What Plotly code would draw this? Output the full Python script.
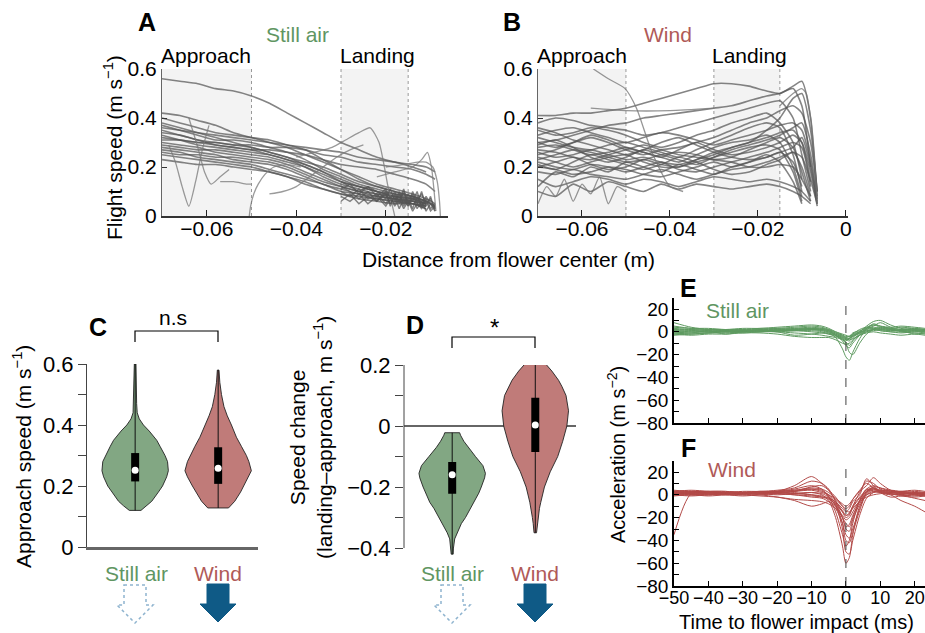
import plotly.graph_objects as go

# ---------------- data ----------------
# Panel A (still air): flight speed vs distance from flower center
A_DIST = [-0.07, -0.066, -0.062, -0.058, -0.054, -0.05, -0.046, -0.042, -0.038,
          -0.034, -0.03, -0.026, -0.022, -0.018, -0.014, -0.011, -0.009]
A_SPEED = [
    [0.56, 0.55, 0.54, 0.52, 0.51, 0.49, 0.46, 0.42, 0.38, 0.34, 0.30, 0.27, 0.24, 0.22, 0.20, 0.18, None],
    [0.42, 0.41, 0.39, 0.37, 0.34, 0.32, 0.30, 0.28, 0.25, 0.22, 0.19, 0.16, 0.13, 0.11, 0.09, 0.07, 0.05],
    [0.40, 0.38, 0.36, 0.34, 0.33, 0.32, 0.31, 0.29, 0.27, 0.23, 0.19, 0.15, 0.12, 0.10, 0.08, 0.06, 0.04],
    [0.37, 0.35, 0.33, 0.31, 0.31, 0.30, 0.28, 0.26, 0.23, 0.19, 0.16, 0.13, 0.11, 0.09, 0.07, 0.05, None],
    [0.34, 0.33, 0.31, 0.30, 0.29, 0.28, 0.26, 0.24, 0.21, 0.18, 0.14, 0.12, 0.10, 0.08, 0.07, 0.05, None],
    [0.33, 0.31, 0.29, 0.28, 0.27, 0.26, 0.25, 0.23, 0.20, 0.16, 0.13, 0.11, 0.09, 0.08, 0.06, 0.05, None],
    [0.30, 0.29, 0.28, 0.26, 0.25, 0.24, 0.23, 0.21, 0.18, 0.15, 0.12, 0.10, 0.09, 0.07, 0.06, 0.04, None],
    [0.28, 0.27, 0.26, 0.25, 0.23, 0.22, 0.21, 0.19, 0.16, 0.13, 0.11, 0.09, 0.08, 0.07, 0.05, 0.04, None],
    [0.27, 0.26, 0.24, 0.23, 0.22, 0.21, 0.19, 0.17, 0.15, 0.13, 0.10, 0.09, 0.07, 0.06, 0.05, 0.04, None],
    [0.25, 0.24, 0.23, 0.22, 0.21, 0.20, 0.18, 0.16, 0.14, 0.11, 0.09, 0.08, 0.07, 0.06, 0.05, 0.03, None],
    [0.23, 0.22, 0.21, 0.21, 0.20, 0.19, 0.18, 0.16, 0.13, 0.11, 0.09, 0.07, 0.06, 0.05, 0.05, 0.03, None],
    [0.35, 0.33, 0.31, 0.29, 0.28, 0.27, 0.27, 0.26, 0.25, 0.23, 0.21, 0.20, 0.19, 0.17, 0.15, 0.13, 0.10],
    [0.31, 0.31, 0.30, 0.30, 0.29, 0.29, 0.28, 0.28, 0.27, 0.25, 0.24, 0.22, 0.21, 0.20, 0.19, 0.17, 0.15],
    [0.36, 0.35, 0.34, 0.33, 0.32, 0.31, 0.30, 0.29, 0.28, 0.27, 0.26, 0.24, 0.23, 0.22, 0.21, 0.20, 0.18],
    [0.29, 0.28, 0.27, 0.27, 0.26, 0.25, 0.24, 0.22, 0.20, 0.17, 0.14, 0.12, 0.10, 0.09, 0.08, 0.06, 0.04],
    [0.32, 0.31, 0.30, 0.29, 0.28, 0.27, 0.25, 0.23, 0.21, 0.18, 0.15, 0.12, 0.10, 0.08, 0.07, 0.06, None],
    [0.26, 0.25, 0.25, 0.24, 0.24, 0.23, 0.22, 0.20, 0.17, 0.14, 0.12, 0.10, 0.08, 0.07, 0.06, 0.05, None],
    [0.38, 0.36, 0.34, 0.32, 0.30, 0.28, 0.26, 0.24, 0.22, 0.20, 0.17, 0.14, 0.12, 0.10, 0.08, 0.06, None],
]
A_EXTRA_X = [
    [-0.0685, -0.067, -0.0655, -0.064, -0.0625, -0.061, -0.0595],
    [-0.064, -0.062, -0.0605, -0.059, -0.057, -0.055],
    [-0.0505, -0.0502, -0.0495, -0.0485, -0.047, -0.045, -0.042, -0.039],
    [-0.04, -0.036, -0.032, -0.029, -0.026, -0.0235, -0.0215, -0.0195, -0.018],
    [-0.022, -0.018, -0.014, -0.012, -0.0107, -0.0098, -0.0092, -0.0088],
    [-0.02, -0.016, -0.013, -0.011, -0.0095, -0.0085, -0.008, -0.0078],
    [-0.046, -0.043, -0.04, -0.037, -0.034, -0.031, -0.028, -0.025],
    [-0.057, -0.054, -0.051, -0.05],
]
A_EXTRA_Y = [
    [0.29, 0.22, 0.12, 0.04, 0.14, 0.27, 0.37],
    [0.40, 0.28, 0.18, 0.13, 0.16, 0.19],
    [0.0, 0.04, 0.09, 0.13, 0.17, 0.20, 0.21, 0.20],
    [0.24, 0.26, 0.28, 0.31, 0.34, 0.36, 0.30, 0.12, 0.0],
    [0.16, 0.18, 0.20, 0.23, 0.26, 0.20, 0.10, 0.02],
    [0.20, 0.21, 0.22, 0.22, 0.20, 0.14, 0.06, 0.0],
    [0.09, 0.10, 0.12, 0.16, 0.20, 0.24, 0.27, 0.29],
    [0.14, 0.14, 0.13, 0.13],
]
A_TAIL_X = [-0.03, -0.028, -0.026, -0.024, -0.022, -0.02, -0.019, -0.018, -0.017,
            -0.016, -0.015, -0.014, -0.013, -0.012, -0.011, -0.01, -0.009]
A_TAIL_Y = [
    [0.10, 0.08, 0.11, 0.07, 0.09, 0.05, 0.08, 0.04, 0.07, 0.03, 0.06, 0.02, 0.05, 0.03, 0.06, 0.02, 0.04],
    [0.12, 0.10, 0.07, 0.10, 0.06, 0.09, 0.05, 0.08, 0.03, 0.07, 0.04, 0.08, 0.03, 0.06, 0.02, 0.05, 0.03],
    [0.08, 0.06, 0.09, 0.05, 0.08, 0.04, 0.07, 0.05, 0.09, 0.04, 0.07, 0.03, 0.08, 0.04, 0.07, 0.03, 0.05],
    [0.06, 0.09, 0.05, 0.08, 0.06, 0.10, 0.04, 0.09, 0.05, 0.10, 0.04, 0.09, 0.05, 0.10, 0.04, 0.08, 0.02],
    [0.14, 0.12, 0.10, 0.12, 0.08, 0.11, 0.07, 0.10, 0.06, 0.11, 0.05, 0.10, 0.06, 0.09, 0.05, 0.07, 0.03],
    [0.11, 0.13, 0.09, 0.12, 0.10, 0.07, 0.11, 0.06, 0.10, 0.05, 0.09, 0.06, 0.10, 0.04, 0.08, 0.05, 0.02],
]

# Panel B (wind)
B_DIST = [-0.07, -0.066, -0.062, -0.058, -0.054, -0.05, -0.046, -0.042, -0.038, -0.034,
          -0.03, -0.026, -0.022, -0.018, -0.015, -0.012, -0.01, -0.008, -0.0065]
B_SPEED = [
    [0.41, 0.41, 0.42, 0.42, 0.43, 0.44, 0.46, 0.48, 0.50, 0.52, 0.54, 0.54, 0.53, 0.51, 0.50, 0.53, 0.55, 0.40, 0.08],
    [0.30, 0.31, 0.33, 0.35, 0.37, 0.38, 0.40, 0.41, 0.42, 0.43, 0.44, 0.45, 0.47, 0.49, 0.50, 0.52, 0.45, 0.20, None],
    [0.38, 0.40, 0.39, 0.37, 0.36, 0.35, 0.33, 0.34, 0.36, 0.38, 0.40, 0.42, 0.44, 0.46, 0.47, 0.40, 0.25, 0.10, None],
    [0.35, 0.33, 0.34, 0.36, 0.35, 0.33, 0.30, 0.28, 0.30, 0.33, 0.35, 0.38, 0.40, 0.42, 0.38, 0.30, 0.15, None, None],
    [0.32, 0.30, 0.28, 0.27, 0.29, 0.30, 0.28, 0.26, 0.24, 0.27, 0.30, 0.33, 0.36, 0.38, 0.36, 0.25, 0.10, None, None],
    [0.28, 0.29, 0.27, 0.25, 0.26, 0.28, 0.26, 0.24, 0.22, 0.25, 0.28, 0.30, 0.31, 0.33, 0.30, 0.20, 0.08, None, None],
    [0.26, 0.24, 0.25, 0.27, 0.25, 0.23, 0.24, 0.22, 0.21, 0.23, 0.25, 0.28, 0.30, 0.32, 0.34, 0.35, 0.30, 0.15, 0.05],
    [0.24, 0.22, 0.20, 0.22, 0.24, 0.25, 0.22, 0.20, 0.20, 0.22, 0.24, 0.26, 0.28, 0.29, 0.27, 0.18, 0.06, None, None],
    [0.22, 0.20, 0.19, 0.21, 0.20, 0.18, 0.20, 0.22, 0.19, 0.18, 0.20, 0.22, 0.24, 0.26, 0.28, 0.30, 0.28, 0.12, None],
    [0.20, 0.19, 0.17, 0.18, 0.20, 0.19, 0.17, 0.16, 0.18, 0.20, 0.22, 0.20, 0.22, 0.25, 0.22, 0.14, 0.05, None, None],
    [0.18, 0.17, 0.19, 0.17, 0.16, 0.15, 0.17, 0.19, 0.17, 0.15, 0.17, 0.19, 0.20, 0.22, 0.24, 0.26, 0.20, 0.08, None],
    [0.15, 0.12, 0.14, 0.16, 0.15, 0.13, 0.15, 0.14, 0.12, 0.14, 0.16, 0.15, 0.14, 0.15, 0.14, 0.12, 0.10, 0.06, None],
    [0.10, 0.08, 0.13, 0.10, 0.14, 0.12, 0.10, 0.13, 0.11, 0.13, 0.12, 0.11, 0.12, 0.13, 0.12, 0.10, 0.08, 0.05, None],
    [0.30, 0.28, 0.30, 0.32, 0.30, 0.27, 0.25, 0.27, 0.28, 0.30, 0.32, 0.35, 0.38, 0.40, 0.43, 0.45, 0.42, 0.30, 0.10],
    [0.27, 0.26, 0.24, 0.23, 0.25, 0.27, 0.29, 0.27, 0.25, 0.24, 0.23, 0.24, 0.27, 0.30, 0.32, 0.28, 0.18, 0.06, None],
    [0.23, 0.25, 0.27, 0.26, 0.24, 0.22, 0.23, 0.25, 0.26, 0.25, 0.23, 0.22, 0.20, 0.20, 0.21, 0.20, 0.15, 0.08, None],
    [0.12, 0.18, 0.16, 0.20, 0.18, 0.22, 0.20, 0.18, 0.21, 0.19, 0.17, 0.20, 0.22, 0.24, 0.26, 0.28, 0.32, 0.20, 0.05],
    [0.20, 0.22, 0.24, 0.21, 0.19, 0.20, 0.23, 0.21, 0.20, 0.23, 0.26, 0.28, 0.30, 0.35, 0.40, 0.48, 0.50, 0.35, 0.10],
    [0.33, 0.35, 0.36, 0.34, 0.32, 0.30, 0.32, 0.34, 0.33, 0.31, 0.29, 0.31, 0.33, 0.35, 0.37, 0.38, 0.35, 0.22, 0.06],
    [0.25, 0.27, 0.30, 0.33, 0.31, 0.28, 0.26, 0.24, 0.27, 0.30, 0.27, 0.25, 0.26, 0.28, 0.30, 0.33, 0.30, 0.18, 0.04],
    [0.36, 0.34, 0.31, 0.29, 0.27, 0.25, 0.27, 0.30, 0.32, 0.29, 0.26, 0.24, 0.23, 0.24, 0.26, 0.22, 0.12, None, None],
    [0.29, 0.31, 0.28, 0.24, 0.22, 0.24, 0.27, 0.25, 0.23, 0.21, 0.24, 0.27, 0.29, 0.31, 0.33, 0.36, 0.38, 0.25, 0.07],
    [0.21, 0.19, 0.22, 0.25, 0.23, 0.21, 0.19, 0.21, 0.24, 0.22, 0.19, 0.17, 0.18, 0.21, 0.23, 0.26, 0.24, 0.14, None],
]
B_EXTRA_X = [
    [-0.0574, -0.054, -0.0502, -0.0476, -0.0445, -0.042, -0.04, -0.037],
    [-0.07, -0.068, -0.066, -0.064, -0.062, -0.06, -0.058, -0.056, -0.054, -0.052, -0.05],
    [-0.058, -0.05, -0.04, -0.03],
    [-0.015, -0.012, -0.01, -0.009, -0.008, -0.007, -0.0065],
]
B_EXTRA_Y = [
    [0.60, 0.56, 0.52, 0.44, 0.28, 0.18, 0.12, 0.10],
    [0.05, 0.12, 0.08, 0.15, 0.06, 0.13, 0.09, 0.16, 0.05, 0.12, 0.10],
    [0.44, 0.43, 0.43, 0.44],
    [0.45, 0.50, 0.52, 0.50, 0.40, 0.20, 0.05],
]

# Panels C and D: violin outlines (value level, half width in category units) and box stats
CATS = ["Still air", "Wind"]
C_STILL_Y = [0.12, 0.135, 0.15, 0.18, 0.2, 0.23, 0.25, 0.28, 0.3, 0.33, 0.35, 0.38, 0.4, 0.42, 0.44, 0.47, 0.52, 0.6]
C_STILL_W = [0.07, 0.14, 0.20, 0.28, 0.33, 0.38, 0.40, 0.39, 0.36, 0.30, 0.26, 0.17, 0.10, 0.05, 0.025, 0.018, 0.015, 0.01]
C_WIND_Y = [0.128, 0.15, 0.18, 0.2, 0.23, 0.25, 0.28, 0.3, 0.33, 0.36, 0.4, 0.43, 0.46, 0.5, 0.54, 0.58]
C_WIND_W = [0.125, 0.2, 0.27, 0.31, 0.37, 0.40, 0.37, 0.34, 0.28, 0.22, 0.16, 0.11, 0.07, 0.04, 0.02, 0.01]
C_STATS = {"Still air": [0.12, 0.215, 0.252, 0.308, 0.60], "Wind": [0.128, 0.207, 0.258, 0.327, 0.58]}

D_STILL_Y = [-0.42, -0.4, -0.37, -0.35, -0.32, -0.3, -0.27, -0.25, -0.22, -0.2, -0.17, -0.155, -0.13, -0.1, -0.07, -0.05, -0.03, -0.022]
D_STILL_W = [0.012, 0.015, 0.03, 0.06, 0.11, 0.16, 0.22, 0.27, 0.32, 0.35, 0.39, 0.40, 0.37, 0.28, 0.19, 0.14, 0.10, 0.09]
D_WIND_Y = [-0.35, -0.32, -0.3, -0.27, -0.25, -0.2, -0.15, -0.1, -0.05, 0.0, 0.05, 0.1, 0.13, 0.15, 0.18, 0.205]
D_WIND_W = [0.015, 0.025, 0.035, 0.05, 0.066, 0.11, 0.18, 0.27, 0.33, 0.38, 0.40, 0.37, 0.32, 0.28, 0.20, 0.12]
D_STATS = {"Still air": [-0.42, -0.222, -0.16, -0.118, -0.022], "Wind": [-0.35, -0.085, 0.003, 0.093, 0.205]}

# Panels E and F: acceleration vs time to flower impact
TIME = [-50, -45, -40, -35, -30, -25, -20, -15, -10, -7, -5, -3, -1, 0, 1, 2, 4, 6, 8, 10, 13, 16, 20, 23]
E_ACC = [
    [3, 2, 1, 1, 1, 2, 2, 3, 4, 3, 1, -3, -7, -8, -5, -2, 2, 4, 3, 2, 1, 1, 2, 1],
    [-1, 0, 0, 1, 0, 1, 1, 2, 2, 1, -1, -5, -15, -22, -25, -18, -6, 2, 4, 3, 2, 1, 1, 2],
    [0, -1, 1, 0, 1, 1, 2, 2, 3, 2, 0, -3, -8, -12, -14, -10, -3, 3, 6, 4, 2, 1, 0, 1],
    [8, 4, 2, 1, 0, 0, 1, 1, 1, 0, -2, -4, -6, -7, -6, -3, 0, 5, 9, 10, 6, 3, 2, 1],
    [2, 2, 1, -2, 0, 1, 1, 1, 2, 1, 0, -2, -4, -5, -4, -1, 1, 3, 5, 8, 4, 2, 1, 0],
    [-3, -2, -1, 0, 0, 1, 0, -3, -2, -1, -1, -3, -6, -9, -12, -8, -2, 0, 2, 1, 0, -1, 0, -1],
    [1, 1, 2, 2, 2, 3, 3, 4, 5, 4, 2, -1, -4, -6, -6, -4, -1, 2, 3, 2, 1, 2, 3, 2],
    [0, 1, 0, 1, 1, 1, 0, 1, 2, 2, 1, -1, -3, -4, -4, -2, 0, 1, 2, 1, 0, 0, 1, 0],
    [-2, -1, -1, 0, -1, 0, 0, -1, -2, -3, -4, -5, -7, -10, -18, -20, -10, -2, 2, 4, 3, 0, -1, -2],
    [4, 3, 3, 2, 2, 2, 3, 3, 3, 2, 1, -2, -5, -7, -8, -5, -1, 3, 7, 5, 3, 4, 3, 2],
    [-1, -2, -1, -1, 0, 0, 1, 1, 0, -1, -2, -3, -5, -6, -7, -6, -3, 0, 1, 2, 2, 1, -2, -1],
    [1, 0, 0, 0, 1, 1, 1, 2, 3, 3, 2, 0, -2, -3, -4, -3, -1, 1, 2, 3, 3, 2, 2, 1],
    [5, 3, 2, 2, 3, 3, 4, 5, 6, 5, 3, 0, -3, -5, -6, -4, 0, 4, 6, 5, 4, 5, 4, 3],
    [-2, -3, -2, -2, -1, -1, -2, -4, -5, -5, -5, -7, -10, -11, -10, -7, -3, -1, 0, -1, -2, -3, -2, -3],
]
F_ACC = [
    [2, 3, 2, 1, 1, 2, 2, 3, 5, 4, -2, -15, -35, -45, -40, -25, -5, 5, 3, 2, 1, 0, 2, 1],
    [3, 2, 2, 2, 1, 1, 2, 1, 2, 0, -5, -20, -45, -60, -55, -35, -10, 0, 3, 2, 1, 0, -1, 0],
    [-35, 1, 2, 2, 2, 2, 3, 5, 8, 5, -1, -10, -20, -25, -28, -20, -5, 5, 8, 6, 3, 2, 1, 2],
    [1, 1, 0, 1, 2, 2, 1, 0, -2, -3, -6, -12, -25, -35, -38, -30, -12, 2, 6, 4, 1, -1, -2, -1],
    [4, 3, 3, 2, 3, 3, 4, 6, 12, 10, 5, -5, -15, -20, -18, -10, 2, 12, 10, 5, 2, 1, 0, -1],
    [0, 0, 1, 1, 0, -1, -2, -4, -5, -6, -8, -12, -18, -22, -20, -15, -5, 0, 2, 3, 4, 3, 2, 1],
    [2, 1, 1, 0, 0, 1, 2, 3, 4, 2, 0, -4, -10, -14, -15, -12, -6, -2, 0, 1, 2, 3, 2, 1],
    [1, 2, 3, 3, 2, 2, 3, 4, 6, 5, 2, -3, -8, -10, -8, -4, 3, 8, 15, 10, 4, 2, 1, 0],
    [-1, 0, -1, 0, 1, 0, -2, -5, -10, -8, -6, -10, -30, -50, -52, -40, -18, -3, 2, 4, 3, 0, -3, -5],
    [3, 3, 2, 1, 1, 2, 3, 2, 0, -2, -4, -8, -15, -18, -16, -10, -2, 4, 6, 3, 0, -5, -10, -15],
    [2, 2, 1, 1, 2, 3, 3, 8, 16, 10, 4, -6, -20, -30, -32, -22, -8, 2, 5, 4, 3, 2, 1, 0],
    [0, 1, 1, 2, 2, 1, 1, 0, -1, -2, -3, -6, -12, -15, -12, -6, 0, 14, 8, 2, 0, 1, 1, 2],
    [2, 2, 3, 3, 2, 2, 3, 4, 5, 3, 0, -8, -25, -40, -42, -33, -14, 1, 4, 3, 2, 1, 3, 2],
    [1, 0, 0, 1, 1, 1, 0, 1, 2, 1, -2, -7, -14, -18, -17, -11, -3, 3, 7, 6, 4, 2, 0, -1],
    [3, 4, 3, 2, 2, 3, 2, 1, 0, -1, -3, -9, -20, -28, -26, -18, -6, 3, 5, 3, 2, 3, 4, 3],
    [0, -1, 0, 0, -1, 0, 1, 3, 7, 8, 4, -2, -10, -12, -10, -4, 4, 10, 6, 2, -2, -1, 0, 1],
]

# ---------------- styling ----------------
W, H = 925, 633
FONT = "Liberation Sans, Arial, sans-serif"
FS = 21
GREEN_TXT = "#5f9662"
RED_TXT = "#b05a58"
GREEN_FILL = "#82a783"
RED_FILL = "#c07b79"
GREEN_LINE = "#5e9a60"
RED_LINE = "#b24a48"
GRAY_LINE = "rgba(85,85,85,0.72)"
BLUE = "#0f5a86"
LBLUE = "#8fb4cf"


def px(x):
    return x / W


def py(y):
    return 1 - y / H


fig = go.Figure()

# A and B trajectories
for row in A_SPEED:
    fig.add_trace(go.Scatter(x=A_DIST, y=row, mode="lines", xaxis="x", yaxis="y",
                             line=dict(color=GRAY_LINE, width=1.6, shape="spline", smoothing=0.6)))
for xs, ys in zip(A_EXTRA_X, A_EXTRA_Y):
    fig.add_trace(go.Scatter(x=xs, y=ys, mode="lines", xaxis="x", yaxis="y",
                             line=dict(color="rgba(120,120,120,0.75)", width=1.3, shape="spline", smoothing=0.6)))
for ys in A_TAIL_Y:
    fig.add_trace(go.Scatter(x=A_TAIL_X, y=ys, mode="lines", xaxis="x", yaxis="y",
                             line=dict(color=GRAY_LINE, width=1.4)))
for row in B_SPEED:
    fig.add_trace(go.Scatter(x=B_DIST, y=row, mode="lines", xaxis="x2", yaxis="y2",
                             line=dict(color=GRAY_LINE, width=1.6, shape="spline", smoothing=0.6)))
for xs, ys in zip(B_EXTRA_X, B_EXTRA_Y):
    fig.add_trace(go.Scatter(x=xs, y=ys, mode="lines", xaxis="x2", yaxis="y2",
                             line=dict(color="rgba(115,115,115,0.75)", width=1.3, shape="spline", smoothing=0.6)))


def add_violin(center, ys, ws, stats, fill, xa, ya):
    xs = [center + w for w in ws] + [center - w for w in reversed(ws)]
    yy = list(ys) + list(reversed(ys))
    fig.add_trace(go.Scatter(x=xs + [xs[0]], y=yy + [yy[0]], mode="lines", fill="toself",
                             fillcolor=fill, line=dict(color="#222", width=0.9),
                             xaxis=xa, yaxis=ya))
    lo, q1, med, q3, hi = stats
    fig.add_trace(go.Scatter(x=[center, center], y=[lo, hi], mode="lines",
                             line=dict(color="#111", width=1), xaxis=xa, yaxis=ya))
    fig.add_trace(go.Scatter(x=[center, center], y=[q1, q3], mode="lines",
                             line=dict(color="#000", width=8), xaxis=xa, yaxis=ya))
    fig.add_trace(go.Scatter(x=[center], y=[med], mode="markers",
                             marker=dict(color="white", size=7), xaxis=xa, yaxis=ya))


add_violin(1, C_STILL_Y, C_STILL_W, C_STATS[CATS[0]], GREEN_FILL, "x3", "y3")
add_violin(2, C_WIND_Y, C_WIND_W, C_STATS[CATS[1]], RED_FILL, "x3", "y3")
add_violin(1, D_STILL_Y, D_STILL_W, D_STATS[CATS[0]], GREEN_FILL, "x4", "y4")
add_violin(2, D_WIND_Y, D_WIND_W, D_STATS[CATS[1]], RED_FILL, "x4", "y4")

for row in E_ACC:
    fig.add_trace(go.Scatter(x=TIME, y=row, mode="lines", xaxis="x5", yaxis="y5",
                             line=dict(color=GREEN_LINE, width=1, shape="spline", smoothing=0.8)))
for row in F_ACC:
    fig.add_trace(go.Scatter(x=TIME, y=row, mode="lines", xaxis="x6", yaxis="y6",
                             line=dict(color=RED_LINE, width=1, shape="spline", smoothing=0.8)))

# ---------------- axes ----------------
tf = dict(family=FONT, size=FS, color="#000")
tf_cd = dict(family=FONT, size=22, color="#000")
tf_ef = dict(family=FONT, size=19, color="#000")
tf_fx = dict(family=FONT, size=18, color="#000")
common = dict(showgrid=False, zeroline=False, fixedrange=True, automargin=False, tickangle=0)
yA = [py(216), py(69)]
fig.update_layout(
    xaxis=dict(domain=[px(162), px(448)], range=[-0.07, -0.0061], anchor="y",
               tickvals=[-0.06, -0.04, -0.02], ticks="inside", ticklen=6, tickcolor="#222",
               showline=True, linecolor="#333", linewidth=1.5, tickfont=tf,
               ticklabelstandoff=-7, **common),
    yaxis=dict(domain=yA, range=[0, 0.6], anchor="x", tickvals=[0, 0.2, 0.4, 0.6],
               ticktext=["0", "0.2", "0.4", "0.6"], ticks="inside", ticklen=5, tickcolor="#333",
               showline=True, linecolor="#666", linewidth=1, tickfont=tf, **common),
    xaxis2=dict(domain=[px(538), px(848)], range=[-0.07, 0.0005], anchor="y2",
                tickvals=[-0.06, -0.04, -0.02, 0], ticktext=["\u22120.06", "\u22120.04", "\u22120.02", "0"],
                ticks="inside", ticklen=6, tickcolor="#222",
                showline=True, linecolor="#333", linewidth=1.5, tickfont=tf,
                ticklabelstandoff=-7, ticklabeloverflow="allow", **common),
    yaxis2=dict(domain=yA, range=[0, 0.6], anchor="x2", tickvals=[0, 0.2, 0.4, 0.6],
                ticktext=["0", "0.2", "0.4", "0.6"], ticks="inside", ticklen=5, tickcolor="#333",
                showline=True, linecolor="#666", linewidth=1, tickfont=tf, **common),
    xaxis3=dict(domain=[px(87), px(258)], range=[0.42, 2.48], anchor="y3", showticklabels=False,
                ticks="", showline=True, linecolor="#666", linewidth=2.5, **common),
    yaxis3=dict(domain=[py(547), py(364)], range=[0, 0.6], anchor="x3", tickvals=[0, 0.2, 0.4, 0.6],
                ticktext=["0", "0.2", "0.4", "0.6"], ticks="outside", ticklen=8, tickcolor="#444",
                minor=dict(dtick=0.1, ticks="outside", ticklen=8, tickcolor="#444"),
                showline=True, linecolor="#444", linewidth=1, tickfont=tf_cd, **common),
    xaxis4=dict(domain=[px(404), px(576)], range=[0.42, 2.49], anchor="y4", visible=False, **common),
    yaxis4=dict(domain=[py(557.2), py(365)], range=[-0.43, 0.2], anchor="x4",
                tickvals=[-0.4, -0.2, 0, 0.2], ticktext=["\u22120.4", "\u22120.2", "0", "0.2"],
                ticks="outside", ticklen=8, tickcolor="#444",
                minor=dict(tickvals=[-0.3, -0.1, 0.1], ticks="outside", ticklen=8, tickcolor="#444"),
                showline=False, tickfont=tf_cd, **common),
    xaxis5=dict(domain=[px(674), 1.0], range=[-50, 23], anchor="y5",
                tickvals=[-50, -40, -30, -20, -10, 0, 10, 20], showticklabels=False,
                ticks="inside", ticklen=5, tickcolor="#000",
                showline=True, linecolor="#000", linewidth=1.5, tickfont=tf_ef, **common),
    yaxis5=dict(domain=[py(423), py(297.6)], range=[-80, 30], anchor="x5",
                tickvals=[-80, -60, -40, -20, 0, 20], ticks="inside", ticklen=5, tickcolor="#000",
                minor=dict(dtick=10, ticks="inside", ticklen=5, tickcolor="#000"),
                showline=True, linecolor="#000", linewidth=1.5, tickfont=tf_ef, **common),
    xaxis6=dict(domain=[px(674), 1.0], range=[-50, 23], anchor="y6",
                tickvals=[-50, -40, -30, -20, -10, 0, 10, 20],
                ticks="inside", ticklen=5, tickcolor="#000",
                showline=True, linecolor="#000", linewidth=1.5, tickfont=tf_fx,
                ticklabelstandoff=-5, ticklabeloverflow="allow", **common),
    yaxis6=dict(domain=[py(586), py(460.6)], range=[-80, 30], anchor="x6",
                tickvals=[-80, -60, -40, -20, 0, 20], ticks="inside", ticklen=5, tickcolor="#000",
                minor=dict(dtick=10, ticks="inside", ticklen=5, tickcolor="#000"),
                showline=True, linecolor="#000", linewidth=1.5, tickfont=tf_ef, **common),
)

# ---------------- shapes ----------------
shapes = []
for xr, yr in (("x", "y"), ("x2", "y2")):
    for x0, x1 in ((-0.07, -0.05), (-0.03, -0.015)):
        shapes.append(dict(type="rect", xref=xr, yref=yr, x0=x0, x1=x1, y0=0, y1=0.6,
                           fillcolor="#f3f3f3", line=dict(width=0), layer="below"))
    for xv in (-0.05, -0.03, -0.015):
        shapes.append(dict(type="line", xref=xr, yref=yr, x0=xv, x1=xv, y0=0, y1=0.6,
                           line=dict(color="#999", width=1, dash="dot"), layer="below"))
# D y-axis line and zero line
shapes.append(dict(type="line", xref="x4 domain", yref="y4", x0=0, x1=0, y0=-0.4, y1=0.2,
                   line=dict(color="#444", width=1)))
shapes.append(dict(type="line", xref="x4 domain", yref="y4", x0=0, x1=1, y0=0, y1=0,
                   line=dict(color="#666", width=1.8), layer="below"))
# dashed impact lines in E and F
for xr, yr in (("x5", "y5 domain"), ("x6", "y6 domain")):
    shapes.append(dict(type="line", xref=xr, yref=yr, x0=0, x1=0, y0=0, y1=1,
                       line=dict(color="#444", width=1, dash="dash")))


def bracket(x0, x1, ytop, ybot):
    return dict(type="path", xref="paper", yref="paper",
                path=f"M{px(x0)},{py(ybot)} L{px(x0)},{py(ytop)} L{px(x1)},{py(ytop)} L{px(x1)},{py(ybot)}",
                line=dict(color="#000", width=1.2))


shapes.append(bracket(135, 218, 331, 342))
shapes.append(bracket(452, 535, 337, 348))


def arrow(cx, top, solid):
    sw, hw, hy, tip = 11, 18, top + 20, top + 38
    pts = [(cx - sw, top), (cx + sw, top), (cx + sw, hy), (cx + hw, hy), (cx, tip),
           (cx - hw, hy), (cx - sw, hy)]
    path = "M" + " L".join(f"{px(a)},{py(b)}" for a, b in pts) + " Z"
    if solid:
        return dict(type="path", xref="paper", yref="paper", path=path,
                    fillcolor=BLUE, line=dict(color=BLUE, width=1))
    return dict(type="path", xref="paper", yref="paper", path=path,
                line=dict(color=LBLUE, width=1.5, dash="dot"))


for cx in (135, 452):
    shapes.append(arrow(cx, 585, False))
for cx in (218, 535):
    shapes.append(arrow(cx, 584, True))

fig.update_layout(shapes=shapes)

# ---------------- annotations ----------------
ann = []


def txt(x, y, s, size=FS, color="#000", bold=False, angle=0):
    ann.append(dict(x=px(x), y=py(y), xref="paper", yref="paper", text=f"<b>{s}</b>" if bold else s,
                    showarrow=False, xanchor="center", yanchor="middle", textangle=angle,
                    font=dict(family=FONT, size=size, color=color)))


for letter, (x, y) in {"A": (147, 22), "B": (512, 22), "C": (98, 327), "D": (415, 325),
                       "E": (688, 288), "F": (688, 448)}.items():
    txt(x, y, letter, size=25, bold=True)
txt(297, 34, "Still air", color=GREEN_TXT)
txt(668, 34, "Wind", color=RED_TXT)
txt(206, 55, "Approach")
txt(377, 55, "Landing")
txt(582, 55, "Approach")
txt(749, 55, "Landing")
txt(113, 148, "Flight speed (m s<sup>\u22121</sup>)", angle=-90)
txt(508, 259, "Distance from flower center (m)")
txt(173, 317, "n.s")
txt(494, 327, "*", size=24)
txt(136, 573, CATS[0], color=GREEN_TXT)
txt(218, 573, CATS[1], color=RED_TXT)
txt(452, 573, CATS[0], color=GREEN_TXT)
txt(535, 573, CATS[1], color=RED_TXT)
txt(22, 457, "Approach speed (m s<sup>\u22121</sup>)", angle=-90)
txt(311, 438, "Speed change<br>(landing\u2013approach, m s<sup>\u22121</sup>)", angle=-90)
txt(737, 310, "Still air", color=GREEN_TXT)
txt(732, 469, "Wind", color=RED_TXT)
txt(617, 455, "Acceleration (m s<sup>\u22122</sup>)", size=20, angle=-90)
txt(796, 622, "Time to flower impact (ms)", size=20)

fig.update_layout(annotations=ann, width=W, height=H, margin=dict(l=0, r=0, t=0, b=0, pad=0),
                  template="none",
                  paper_bgcolor="white", plot_bgcolor="white", showlegend=False,
                  font=dict(family=FONT, size=FS, color="#000"))

fig.write_html("out.html", config={"displayModeBar": False},
               post_script="document.body.style.margin='0';document.body.style.padding='0';"
                           "document.documentElement.style.overflow='hidden';")
